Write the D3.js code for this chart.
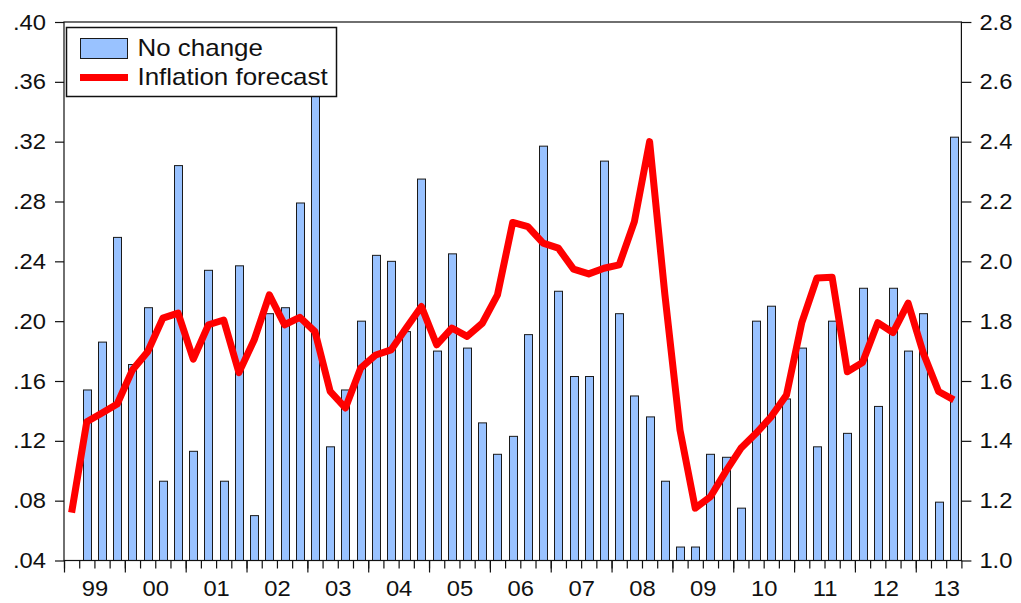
<!DOCTYPE html>
<html>
<head>
<meta charset="utf-8">
<script src="https://cdn.jsdelivr.net/npm/d3@7"></script>
<style>
  html, body { margin: 0; padding: 0; background: #fff; }
  svg { display: block; font-family: "Liberation Sans", Arial, sans-serif; }
</style>
</head>
<body>
<svg id="chart" width="1021" height="603"></svg>
<script>
// ---- data ----
const yearLabels = ["99","00","01","02","03","04","05","06","07","08","09","10","11","12","13"];
const quarterNames = ["Q1","Q2","Q3","Q4"];
// quarterly observations 1999Q1 .. 2013Q3
const noChange = [null, 0.154, 0.186, 0.256, 0.171, 0.209, 0.093, 0.304, 0.113, 0.234,
  0.093, 0.237, 0.070, 0.205, 0.209, 0.279, 0.370, 0.116, 0.154, 0.200,
  0.244, 0.240, 0.193, 0.295, 0.180, 0.245, 0.182, 0.132, 0.111, 0.123,
  0.191, 0.317, 0.220, 0.163, 0.163, 0.307, 0.205, 0.150, 0.136, 0.093,
  0.049, 0.049, 0.111, 0.109, 0.075, 0.200, 0.210, 0.148, 0.182, 0.116,
  0.200, 0.125, 0.222, 0.143, 0.222, 0.180, 0.205, 0.079, 0.323];
const inflationForecast = [1.160, 1.464, 1.493, 1.523, 1.637, 1.698, 1.810, 1.827, 1.673, 1.788,
  1.804, 1.628, 1.737, 1.888, 1.788, 1.813, 1.765, 1.565, 1.510, 1.643,
  1.687, 1.704, 1.777, 1.849, 1.721, 1.777, 1.749, 1.793, 1.888, 2.130,
  2.116, 2.061, 2.044, 1.974, 1.958, 1.977, 1.988, 2.133, 2.400, 1.891,
  1.436, 1.175, 1.213, 1.297, 1.375, 1.425, 1.481, 1.553, 1.794, 1.944,
  1.947, 1.631, 1.662, 1.795, 1.762, 1.860, 1.693, 1.565, 1.537];
const leftTicks = [0.04, 0.08, 0.12, 0.16, 0.20, 0.24, 0.28, 0.32, 0.36, 0.40];
const rightTicks = [1.0, 1.2, 1.4, 1.6, 1.8, 2.0, 2.2, 2.4, 2.6, 2.8];
const seriesNames = ["No change", "Inflation forecast"];

const periods = [];
yearLabels.forEach((y, yi) => quarterNames.forEach(q => periods.push(y + q)));
const nObs = noChange.length; // 59

// ---- layout ----
const svg = d3.select("#chart");
const L = 64, R = 961.4, T = 22, B = 560.5;

const x = d3.scaleLinear().domain([0, nObs]).range([L, R]);
const yL = d3.scaleLinear().domain([0.04, 0.40]).range([B, T]);
const yR = d3.scaleLinear().domain([1.0, 2.8]).range([B, T]);

const barW = 8;
const data = periods.slice(0, nObs).map((p, i) => ({ p, i, nc: noChange[i], inf: inflationForecast[i] }));

// bars
svg.append("g").selectAll("rect")
  .data(data.filter(d => d.nc != null))
  .join("rect")
  .attr("x", d => Math.round(x(d.i + 0.5) - barW / 2) + 0.5)
  .attr("y", d => yL(d.nc))
  .attr("width", barW)
  .attr("height", d => yL(0.04) - yL(d.nc))
  .attr("fill", "#99c2ff")
  .attr("stroke", "#1a1a1a")
  .attr("stroke-width", 1);

// line
const line = d3.line().x(d => x(d.i + 0.5)).y(d => yR(d.inf));
svg.append("path")
  .datum(data)
  .attr("d", line)
  .attr("fill", "none")
  .attr("stroke", "#ff0000")
  .attr("stroke-width", 7)
  .attr("stroke-linejoin", "round");

// frame
svg.append("rect")
  .attr("x", L).attr("y", T).attr("width", R - L).attr("height", B - T)
  .attr("fill", "none").attr("stroke", "#111").attr("stroke-width", 1.2);

// axes
const fmtL = v => d3.format(".2f")(v).replace(/^0/, "");
const axL = svg.append("g").attr("transform", `translate(${L},0)`)
  .call(d3.axisLeft(yL).tickValues(leftTicks).tickFormat(fmtL).tickSize(9).tickSizeOuter(0).tickPadding(9));
const axR = svg.append("g").attr("transform", `translate(${R},0)`)
  .call(d3.axisRight(yR).tickValues(rightTicks).tickFormat(d3.format(".1f")).tickSize(10).tickSizeOuter(0).tickPadding(8));

const minorTicks = d3.range(0, nObs + 1);
const majorTicks = d3.range(0, nObs + 1, 4);
const axQ = svg.append("g").attr("transform", `translate(0,${B})`)
  .call(d3.axisBottom(x).tickValues(minorTicks).tickFormat("").tickSize(8).tickSizeOuter(0));
const axY = svg.append("g").attr("transform", `translate(0,${B})`)
  .call(d3.axisBottom(x).tickValues(majorTicks).tickFormat("").tickSize(12).tickSizeOuter(0));
const yearMid = yearLabels.map((y, k) => 4 * k + 2);
const axLab = svg.append("g").attr("transform", `translate(0,${B})`)
  .call(d3.axisBottom(x).tickValues(yearMid).tickFormat((d, k) => yearLabels[k]).tickSize(0).tickSizeOuter(0).tickPadding(20));

[axL, axR, axQ, axY, axLab].forEach(g => {
  g.select(".domain").remove();
  g.selectAll("line").attr("stroke", "#111").attr("stroke-width", 1.2);
  g.selectAll("text").attr("font-size", 22).attr("fill", "#111")
    .attr("font-family", "'Liberation Sans', Arial, sans-serif");
});
axLab.selectAll("text").attr("dy", "0.71em");

// legend
const lg = svg.append("g");
lg.append("rect").attr("x", 66.5).attr("y", 27.5).attr("width", 270).attr("height", 69)
  .attr("fill", "#fff").attr("stroke", "#111").attr("stroke-width", 1.5);
lg.append("rect").attr("x", 80.5).attr("y", 38.5).attr("width", 47).attr("height", 20)
  .attr("fill", "#99c2ff").attr("stroke", "#1a1a1a").attr("stroke-width", 1);
lg.append("line").attr("x1", 80).attr("x2", 128).attr("y1", 77.5).attr("y2", 77.5)
  .attr("stroke", "#ff0000").attr("stroke-width", 7);
lg.append("text").attr("x", 137.5).attr("y", 55.5).attr("font-size", 24).attr("fill", "#111").text(seriesNames[0]);
lg.append("text").attr("x", 137.5).attr("y", 84.5).attr("font-size", 24).attr("fill", "#111").text(seriesNames[1]);

// slight horizontal stretch of all text, as in the reference rendering
svg.selectAll("text").each(function() {
  const w = this.getComputedTextLength();
  if (w > 0) d3.select(this).attr("textLength", w * 1.08).attr("lengthAdjust", "spacingAndGlyphs");
});
</script>
</body>
</html>
